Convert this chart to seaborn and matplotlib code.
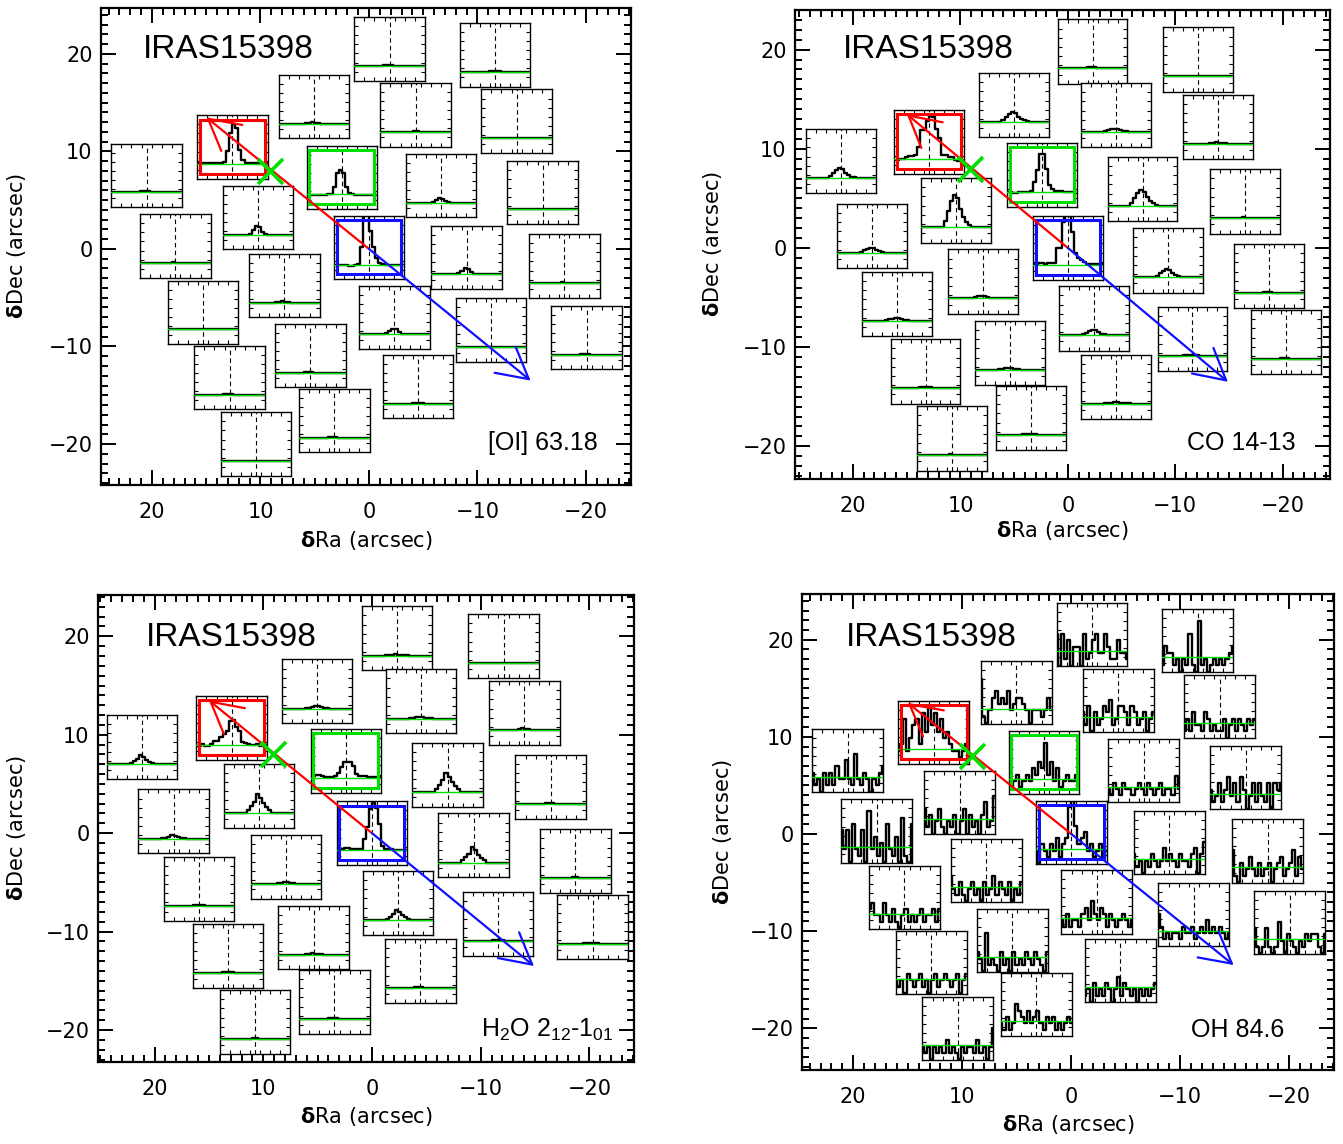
import numpy as np
import matplotlib
matplotlib.use('Agg')
import matplotlib.pyplot as plt
from matplotlib.patches import Rectangle, FancyArrowPatch
from matplotlib.ticker import MultipleLocator
import seaborn as sns

sns.set_theme(style='ticks')
plt.rcParams['font.family'] = ['DejaVu Sans']
plt.rcParams['axes.edgecolor'] = 'black'
plt.rcParams['axes.labelcolor'] = 'black'
plt.rcParams['text.color'] = 'black'
plt.rcParams['xtick.color'] = 'black'
plt.rcParams['ytick.color'] = 'black'

RED, GREEN, BLUE = '#ff0000', '#00e000', '#1010ff'

# spaxel centres (arcsec): blue camera ([OI], OH) and red camera (CO, H2O)
ra_blue = [-1.9, -11.6, 5.05, -4.3, -13.6, 12.6, 2.5, -6.65, -16.0, 20.5, 10.25, 0.0, -9.0,
           -18.0, 17.85, 7.8, -2.35, -11.25, -20.05, 15.3, 5.4, -4.5, 12.85, 3.2, 10.4]
dec_blue = [20.5, 19.9, 14.6, 13.75, 13.1, 10.45, 7.35, 6.5, 5.8, 7.55, 3.2, 0.15, -0.85,
            -1.75, 0.3, -3.75, -7.0, -8.3, -9.1, -6.5, -10.95, -14.1, -13.2, -17.6, -20.0]
ra_red = [-2.3, -12.1, 5.05, -4.5, -14.0, 12.9, 2.4, -6.95, -16.45, 21.15, 10.4, 0.0, -9.35,
          -18.7, 18.25, 7.9, -2.4, -11.6, -20.3, 15.9, 5.35, -4.45, 13.25, 3.45, 10.75]
dec_red = [19.8, 19.0, 14.4, 13.4, 12.2, 10.7, 7.35, 5.95, 4.7, 8.75, 3.8, 0.0, -1.25,
           -2.85, 1.2, -3.4, -7.1, -9.2, -9.5, -5.65, -10.6, -14.0, -12.45, -17.15, -19.2]

# outflow directions and source position
outflow_red = (15.0, 13.5)
outflow_blue = (-14.9, -13.5)
source_pos = (9.1, 8.0)

line_names = ['[OI] 63.18', 'CO 14-13',
              r'H$_\mathregular{2}$O 2$_\mathregular{12}$-1$_\mathregular{01}$', 'OH 84.6']

# continuum level of each map (fraction of spectrum box)
baselines = [0.23, 0.24, 0.23, 0.24]

# line bump shape per map (peak normalised) and peak above continuum per spaxel
bump_oi = [0, 0, 0, 0, 0, 0, 0, 0, 0, 0.15, 0.6, 1.0, 0.85, 0.35, 0.1, 0, 0, 0, 0, 0, 0, 0, 0, 0]
bump_co = [0, 0, 0, 0, 0, 0, 0, 0, 0.2, 0.5, 0.8, 1.0, 0.9, 0.55, 0.3, 0.15, 0.05, 0, 0, 0, 0, 0, 0, 0]
bump_h2o = [0, 0, 0, 0, 0, 0, 0, 0, 0.15, 0.35, 0.6, 1.0, 0.8, 0.5, 0.3, 0.15, 0, 0, 0, 0, 0, 0, 0, 0]

amp_oi = [0.02, 0.02, 0.02, 0.01, 0.01, 0, 0, 0.07, 0.01, 0.03, 0.14, 0, 0.10, 0.01, 0.01,
          0.02, 0.09, 0.0, 0.01, 0.01, 0.01, 0.01, 0.01, 0.01, 0.0]
amp_co = [0.02, 0.01, 0.15, 0.05, 0.02, 0, 0, 0.24, 0.01, 0.15, 0.50, 0, 0.12, 0.01, 0.08,
          0.04, 0.08, 0.02, 0.01, 0.04, 0.03, 0.02, 0.02, 0.01, 0.01]
amp_h2o = [0.02, 0.01, 0.05, 0.03, 0.03, 0, 0, 0.30, 0.02, 0.14, 0.30, 0, 0.24, 0.02, 0.05,
           0.03, 0.16, 0.02, 0.02, 0.02, 0.02, 0.02, 0.02, 0.02, 0.02]

# spectra of the three marked spaxels (red lobe, source, blue lobe)
oi_red = [.24, .24, .24, .25, .24, .24, .24, .25, .25, .26, .43, .72, .87, .80, .45, .30, .25, .24, .24, .24, .24, .24, .24, .24]
oi_green = [.22, .22, .22, .22, .22, .22, .22, .23, .23, .35, .57, .62, .57, .35, .25, .23, .22, .22, .22, .22, .22, .22, .22, .22]
oi_blue = [.23, .23, .23, .22, .22, .20, .21, .23, .24, .50, 1.1, 1.1, .76, .50, .34, .26, .24, .23, .23, .23, .23, .23, .23, .23]
co_red = [.22, .22, .23, .23, .27, .28, .28, .30, .42, .69, .69, .82, .90, .88, .70, .56, .30, .30, .27, .26, .22, .20, .20, .20]
co_green = [.23, .23, .22, .22, .23, .24, .24, .24, .26, .40, .58, .83, .83, .60, .35, .28, .26, .25, .25, .24, .24, .23, .23, .22]
co_blue = [.26, .25, .26, .26, .25, .26, .26, .27, .50, .50, .90, 1.05, 1.1, .75, .42, .35, .32, .28, .25, .25, .25, .25, .25, .25]
h2o_red = [.22, .21, .24, .22, .21, .24, .29, .29, .35, .40, .45, .60, .63, .52, .45, .28, .26, .24, .23, .23, .24, .22, .23, .23]
h2o_green = [.26, .26, .28, .28, .26, .25, .25, .25, .27, .31, .40, .48, .48, .48, .42, .30, .26, .26, .26, .25, .25, .25, .24, .24]
h2o_blue = [.26, .26, .25, .27, .27, .26, .26, .25, .25, .41, .60, .88, .97, .90, .64, .30, .26, .25, .25, .24, .24, .24, .24, .24]

# OH 84.6 spectra, one hex digit per channel (tenths of the box height)
oh_spectra = ['505140 330512 452253 114221', '143312 021610 812012 121234',
              '710245 343523 443202 221242', '314031 243512 443143 123023',
              '131422 143121 130231 321323', '237246 738596 857453 221234',
              '512312 324354 835241 232231', '213213 221232 132123 122142',
              '312413 524153 024142 140434', '312031 314225 216213 202134',
              '413024 102130 240312 035126', '203213 241349 b63452 312312',
              '312021 321242 321322 134035', '510312 421312 302341 235142',
              '525062 150824 130621 407106', '421310 231203 124132 130213',
              '213122 134253 243132 123212', '531212 213223 123242 323212',
              '410141 015203 210213 233103', '342214 213102 312123 122313',
              '320612 103120 312132 132103', '120312 132024 132120 212123',
              '212032 123120 231232 123023', '213125 432423 421323 121232',
              '212021 213121 021221 312025']

MARKED = {5: RED, 6: GREEN, 11: BLUE}
NCH = 24
chan = np.arange(NCH)
BOX = 6.5

W, H = 1343, 1144
frames = [(101, 8, 631, 485), (795, 10, 1330, 479), (98, 595, 634, 1062), (802, 594, 1334, 1070)]
xlims = [(24.7, -24.15), (25.4, -24.4), (25.2, -24.1), (24.7, -24.1)]
ylims = [(-24.2, 24.7), (-23.3, 24.0), (-23.25, 24.2), (-24.3, 24.7)]
title_px = [(143, 50), (843, 50), (146, 637), (846, 637)]
name_px = [(598, 443), (1296, 443), (614, 1030), (1284, 1030)]
xlabel_py = [540, 531, 1117, 1125]
ylabel_px = [17, 712, 17, 722]


def spectra_for(panel):
    if panel == 3:
        out = []
        for s in oh_spectra:
            out.append([int(c, 16) / 10 + 0.01 for c in s.replace(' ', '')])
        return out
    bump = [bump_oi, bump_co, bump_h2o][panel]
    amps = [amp_oi, amp_co, amp_h2o][panel]
    marked = [(oi_red, oi_green, oi_blue), (co_red, co_green, co_blue),
              (h2o_red, h2o_green, h2o_blue)][panel]
    base = baselines[panel]
    out = [list(base + a * np.array(bump)) for a in amps]
    out[5], out[6], out[11] = marked
    return out


def add_spaxel(ax, xc, yc, spec, base, edge=None):
    x0, x1 = ax.get_xlim()
    y0, y1 = ax.get_ylim()
    fx = (xc + BOX / 2 - x0) / (x1 - x0)
    fy = (yc - BOX / 2 - y0) / (y1 - y0)
    iax = ax.inset_axes([fx, fy, BOX / abs(x1 - x0), BOX / (y1 - y0)])
    iax.set_facecolor('white')
    sns.lineplot(x=chan, y=spec, ax=iax, color='black', lw=1.7,
                 drawstyle='steps-mid', estimator=None)
    iax.axvline((NCH - 1) / 2, color='black', lw=0.8, ls=(0, (4, 3)))
    iax.axhline(base, color=GREEN, lw=1.0, zorder=3)
    iax.set_xlim(0, NCH - 1)
    iax.set_ylim(0, 1)
    iax.set_xticks(np.linspace(0, NCH - 1, 8)[1:-1])
    iax.set_yticks(np.linspace(0, 1, 8)[1:-1])
    iax.tick_params(direction='in', length=3, width=0.8, top=True, right=True,
                    bottom=True, left=True, labelbottom=False, labelleft=False)
    iax.set_xlabel('')
    iax.set_ylabel('')
    for sp in iax.spines.values():
        sp.set_linewidth(1.0)
        sp.set_color('black')
    if edge is not None:
        iax.add_patch(Rectangle((0.04, 0.08), 0.92, 0.85, transform=iax.transAxes,
                                fill=False, ec=edge, lw=2.2, zorder=6, clip_on=False))


fig = plt.figure(figsize=(W / 100, H / 100), dpi=100)

for p in range(4):
    l, t, r, b = frames[p]
    ax = fig.add_axes([l / W, 1 - b / H, (r - l) / W, (b - t) / H])
    ax.set_xlim(*xlims[p])
    ax.set_ylim(*ylims[p])
    ax.xaxis.set_major_locator(MultipleLocator(10))
    ax.xaxis.set_minor_locator(MultipleLocator(1))
    ax.yaxis.set_major_locator(MultipleLocator(10))
    ax.yaxis.set_minor_locator(MultipleLocator(1))
    ax.tick_params(which='both', direction='in', top=True, right=True, width=1.4, colors='black')
    ax.tick_params(which='major', length=11)
    ax.tick_params(which='minor', length=5)
    ax.tick_params(axis='x', labelsize=15, pad=12)
    ax.tick_params(axis='y', labelsize=15, pad=6)
    for sp in ax.spines.values():
        sp.set_linewidth(1.6)

    ax.set_xlabel(r'$\mathbf{\delta}$Ra (arcsec)', fontsize=15, va='center')
    ax.set_ylabel(r'$\mathbf{\delta}$Dec (arcsec)', fontsize=15, va='center')
    ax.xaxis.set_label_coords(0.5, (b - xlabel_py[p]) / (b - t))
    ax.yaxis.set_label_coords((ylabel_px[p] - l) / (r - l), 0.5)

    ras, decs = (ra_blue, dec_blue) if p in (0, 3) else (ra_red, dec_red)
    specs = spectra_for(p)
    for i in range(25):
        add_spaxel(ax, ras[i], decs[i], specs[i], baselines[p], MARKED.get(i))

    ax.add_patch(FancyArrowPatch((0, 0), outflow_red, arrowstyle='->,head_length=1.1,head_width=0.6',
                                 mutation_scale=20, color=RED, lw=1.6, shrinkA=0, shrinkB=0, zorder=10))
    ax.add_patch(FancyArrowPatch((0, 0), outflow_blue, arrowstyle='->,head_length=1.1,head_width=0.6',
                                 mutation_scale=20, color=BLUE, lw=1.6, shrinkA=0, shrinkB=0, zorder=10))
    ax.plot([source_pos[0]], [source_pos[1]], marker='x', ms=18, mew=2.6, color=GREEN, zorder=11)

    tx, ty = title_px[p]
    ax.text((tx - l) / (r - l), (b - ty) / (b - t), 'IRAS15398', transform=ax.transAxes,
            fontsize=24, family='Liberation Sans', color='black', ha='left', va='center')
    nx, ny = name_px[p]
    ax.text((nx - l) / (r - l), (b - ny) / (b - t), line_names[p], transform=ax.transAxes,
            fontsize=18, family='Liberation Sans', color='black', ha='right', va='center')

fig.savefig('out.png', dpi=100)
